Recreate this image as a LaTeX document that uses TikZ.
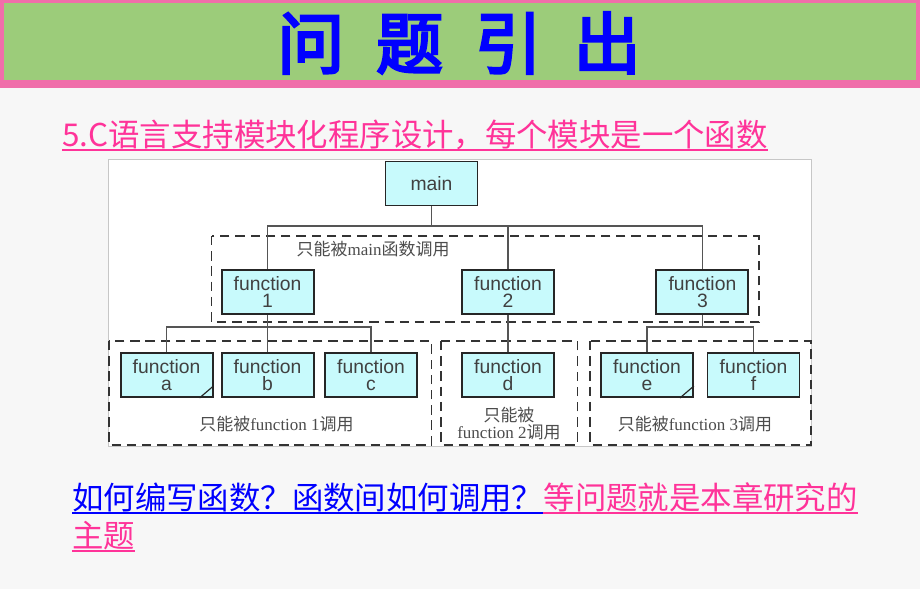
\documentclass[tikz,border=0pt]{standalone}
\usepackage{fontspec}
\setmainfont{Liberation Serif}
\newfontfamily\zhfont{Noto Sans CJK SC}
\newfontfamily\zhtitle[FakeBold=4]{Noto Sans CJK SC}
\newfontfamily\boxfont{Liberation Sans}
\usetikzlibrary{calc}
\definecolor{bannergreen}{RGB}{156,204,122}
\definecolor{bannerpink}{RGB}{240,110,170}
\definecolor{slidegray}{RGB}{247,247,247}
\definecolor{boxcyan}{RGB}{200,250,252}
\definecolor{notepink}{RGB}{255,51,153}
\definecolor{noteblue}{RGB}{0,0,255}
\definecolor{linegray}{RGB}{85,85,85}
\def\zh#1{{\zhfont #1}}
\tikzset{
  fbox/.style={draw=black!85, line width=1.6pt, fill=boxcyan, minimum width=2.76cm, minimum height=1.32cm,
    inner sep=0pt, align=center, font=\boxfont\fontsize{16.5}{15}\selectfont, text=black!75},
  link/.style={draw=linegray, line width=1.3pt},
  callgroup/.style={draw=black!80, dash pattern=on 8pt off 5pt, line width=1.2pt},
  note/.style={text=black!70, font=\fontsize{14.5}{14.5}\selectfont, inner sep=0pt},
  slidetext/.style={anchor=base west, inner sep=0pt, font=\zhfont\fontsize{26.8}{30}\selectfont},
  underbar/.style={line width=1.4pt},
}

\begin{document}
\begin{tikzpicture}[x=0.03cm, y=-0.03cm]
		%%%%% START %%%%%
		\useasboundingbox (0,0) rectangle (920,589);
		\fill[slidegray] (0,0) rectangle (920,589);
		
		\fill[bannerpink] (0,0) rectangle (920,88);
		\fill[bannergreen] (4,3) rectangle (916,80);
		\node[text=noteblue, font=\zhtitle\fontsize{57}{57}\selectfont] (title) at (459,43) {问\hspace{0.96cm}题\hspace{0.96cm}引\hspace{0.96cm}出};
		
		\node[slidetext, text=notepink] (topic) at (62,146) {5.C语言支持模块化程序设计，每个模块是一个函数};
		\draw[underbar, notepink] ($(topic.base west)+(0,4)$) -- ($(topic.base east)+(0,4)$);
		
		\draw[draw=black!22, fill=white, line width=0.8pt] (108,159) rectangle (811,446);
		
		\draw[callgroup] (211.6,236) rectangle (759,322);
		\draw[callgroup] (109,341) rectangle (431.5,445);
		\draw[callgroup] (441,341) rectangle (577.5,445);
		\draw[callgroup] (590,341) rectangle (811,445);
		
		\node[fbox] (main) at (431.5,183.5) {main};
		\node[fbox] (fn1) at (267.6,292) {function\\1};
		\node[fbox] (fn2) at (508,292) {function\\2};
		\node[fbox] (fn3) at (702.4,292) {function\\3};
		\node[fbox] (fna) at (166.6,375) {function\\a};
		\node[fbox] (fnb) at (267.6,375) {function\\b};
		\node[fbox] (fnc) at (371,375) {function\\c};
		\node[fbox] (fnd) at (508,375) {function\\d};
		\node[fbox] (fne) at (647,375) {function\\e};
		\node[fbox] (fnf) at (753.5,375) {function\\f};
		
		\draw[black!85, line width=1pt] ($(fna.south east)+(-14,0)$) -- ($(fna.south east)+(0,-12)$);
		\draw[black!85, line width=1pt] ($(fne.south east)+(-14,0)$) -- ($(fne.south east)+(0,-12)$);
		
		\coordinate (topbus) at (431.5,226);
		\coordinate (lowbus) at (0,327);
		\draw[link] (main.south) -- (topbus);
		\draw[link] (fn1.north) -- (fn1.north |- topbus) -- (fn3.north |- topbus) -- (fn3.north);
		\draw[link] (fn2.north) -- (fn2.north |- topbus);
		\draw[link] (fn1.south) -- (fnb.north);
		\draw[link] (fna.north) -- (fna.north |- lowbus) -- (fnc.north |- lowbus) -- (fnc.north);
		\draw[link] (fn2.south) -- (fnd.north);
		\draw[link] (fn3.south) -- (fn3.south |- lowbus);
		\draw[link] (fne.north) -- (fne.north |- lowbus) -- (fnf.north |- lowbus) -- (fnf.north);
		
		\node[note, anchor=west] (mainonly) at (296.5,249) {\zh{只能被}main\zh{函数调用}};
		\node[note] (only1) at (276.5,424) {\zh{只能被}function 1\zh{调用}};
		\node[note, align=center] (only2) at (509,424) {\zh{只能被}\\function 2\zh{调用}};
		\node[note] (only3) at (695,424) {\zh{只能被}function 3\zh{调用}};
		
		\node[slidetext, text=noteblue] (ask) at (72,509) {如何编写函数？函数间如何调用？};
		\node[slidetext, text=notepink] (askrest) at (ask.base east) {等问题就是本章研究的};
		\node[slidetext, text=notepink] (theme) at (72,547) {主题};
		\draw[underbar, noteblue] ($(ask.base west)+(0,4)$) -- ($(ask.base east)+(0,4)$);
		\draw[underbar, notepink] ($(askrest.base west)+(0,4)$) -- ($(askrest.base east)+(0,4)$);
		\draw[underbar, notepink] ($(theme.base west)+(0,4)$) -- ($(theme.base east)+(0,4)$);
		%%%%% END %%%%%
\end{tikzpicture}
\end{document}
